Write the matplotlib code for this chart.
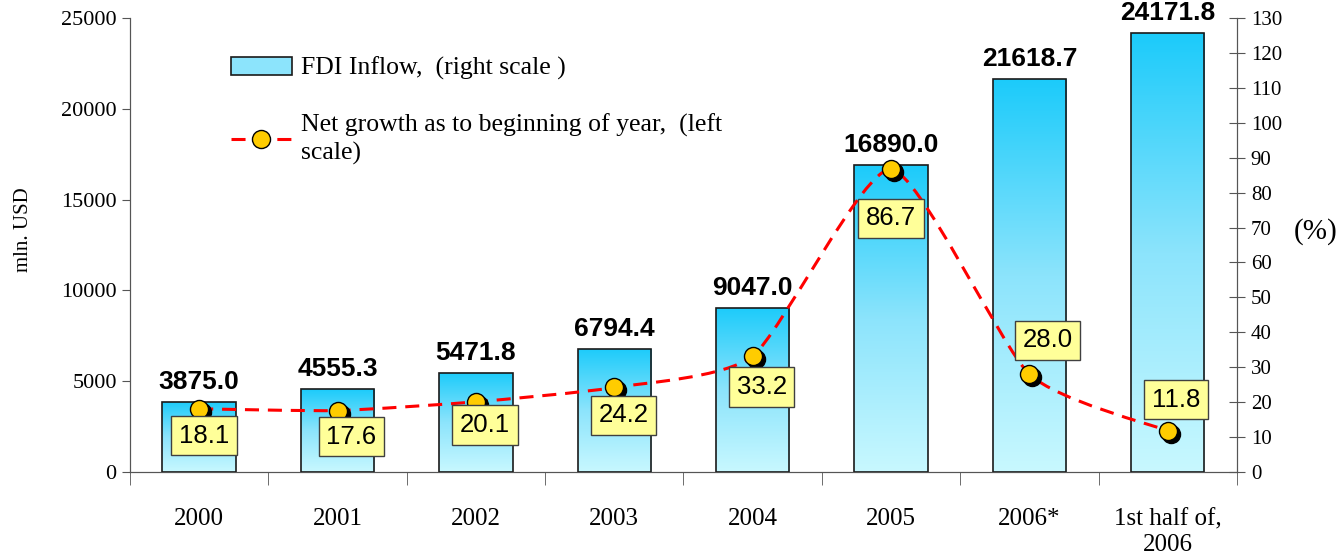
import numpy as np
import matplotlib.pyplot as plt
from matplotlib.path import Path
from matplotlib.patches import PathPatch, Patch
from matplotlib.lines import Line2D
from matplotlib.transforms import offset_copy

plt.rcParams['font.family'] = ['Liberation Serif', 'DejaVu Serif']

# ------------------------------------------------------------
# Data
# ------------------------------------------------------------
categories = ["2000", "2001", "2002", "2003", "2004", "2005", "2006*",
              "1st half of,\n2006"]
fdi_inflow = [3875.0, 4555.3, 5471.8, 6794.4, 9047.0, 16890.0, 21618.7, 24171.8]
net_growth = [18.1, 17.6, 20.1, 24.2, 33.2, 86.7, 28.0, 11.8]

# where each yellow growth label sits relative to its point (pixels)
label_offsets = [(5, -27), (14, -26), (9, -23), (9, -28), (9, -31),
                 (0, -49), (18, 34), (8, 31)]

x = np.arange(len(categories))


def smooth_path(xs, ys, k=0.1):
    # excel-like smoothed line through the points (bezier segments)
    pts = np.column_stack([xs, ys]).astype(float)
    n = len(pts)
    verts = [pts[0]]
    codes = [Path.MOVETO]
    for i in range(n - 1):
        p0 = pts[max(i - 1, 0)]
        p1 = pts[i]
        p2 = pts[i + 1]
        p3 = pts[min(i + 2, n - 1)]
        verts += [p1 + (p2 - p0) * k, p2 - (p3 - p1) * k, p2]
        codes += [Path.CURVE4] * 3
    return Path(verts, codes)


fig = plt.figure(figsize=(13.41, 5.57), dpi=100)
ax = fig.add_axes([0.0969, 0.1526, 0.8255, 0.8151])
ax2 = ax.twinx()

# ------------------------------------------------------------
# Bars with vertical gradient
# ------------------------------------------------------------
bars = ax.bar(x, fdi_inflow, width=0.53, facecolor='none',
              edgecolor='#1a1a1a', linewidth=1.2, zorder=3)
grad = np.linspace(0, 1, 256).reshape(-1, 1)
cmap = plt.matplotlib.colors.LinearSegmentedColormap.from_list(
    'fdi', ['#C8F8FF', '#8CE4FC', '#1CCBFA'])
for b in bars:
    x0, w, h = b.get_x(), b.get_width(), b.get_height()
    im = ax.imshow(grad, cmap=cmap, origin='lower', aspect='auto',
                   extent=(x0, x0 + w, 0, h), zorder=2)
    im.set_clip_path(b)

for xi, v in zip(x, fdi_inflow):
    ax.annotate(f"{v:.1f}", (xi, v), xytext=(0, 8), textcoords='offset pixels',
                ha='center', va='bottom', fontsize=19, fontweight='bold',
                family='Liberation Sans')

ax.set_xlim(-0.5, len(categories) - 0.5)
ax.set_ylim(0, 25000)
ax.set_yticks(np.arange(0, 25001, 5000))
ax.set_xticks(x)
ax.set_xticklabels(categories, fontsize=18, linespacing=1.25)
ax.set_xticks(np.arange(-0.5, len(categories), 1), minor=True)
ax.tick_params(axis='x', which='major', length=0, pad=26)
ax.tick_params(axis='x', which='minor', length=9, direction='out',
               color='#555555')
ax.tick_params(axis='y', labelsize=16, length=6, color='#555555')
ax.set_ylabel("mln. USD", fontsize=15)
ax.yaxis.set_label_coords(-0.088, 0.533)

for side in ['top']:
    ax.spines[side].set_visible(False)
    ax2.spines[side].set_visible(False)
for sp in ['left', 'bottom', 'right']:
    ax.spines[sp].set_color('#555555')
    ax2.spines[sp].set_color('#555555')

# ------------------------------------------------------------
# Growth line on right axis
# ------------------------------------------------------------
ax2.set_ylim(0, 130)
ax2.set_yticks(np.arange(0, 131, 10))
ax2.tick_params(axis='y', labelsize=15, length=12, direction='inout',
                color='#555555', pad=4)
ax2.set_ylabel("(%)", fontsize=21, rotation=0, va='center', ha='center')
ax2.yaxis.set_label_coords(1.071, 0.53)

dash = (0, (4.6, 2.9))
line = PathPatch(smooth_path(x, net_growth), fill=False, edgecolor='#FF0000',
                 linewidth=2.2, linestyle=dash, zorder=3)
ax2.add_patch(line)

shadow = offset_copy(ax2.transData, fig=fig, x=3, y=-3, units='dots')
ax2.plot(x, net_growth, 'o', ms=13, color='black', transform=shadow, zorder=4)
ax2.plot(x, net_growth, 'o', ms=13, mfc='#FFCC00', mec='black', mew=1,
         zorder=5)

for xi, v, (dx, dy) in zip(x, net_growth, label_offsets):
    ax2.annotate(f"{v:.1f}", (xi, v), xytext=(dx, dy),
                 textcoords='offset pixels', ha='center', va='center',
                 fontsize=18.5, family='Liberation Sans', zorder=6,
                 bbox=dict(boxstyle='square,pad=0.3', fc='#FFFF99',
                           ec='#404040', lw=1))

# ------------------------------------------------------------
# Legend
# ------------------------------------------------------------
handles = [
    Patch(facecolor='#8CE4FC', edgecolor='#1a1a1a', linewidth=1.2),
    Line2D([], [], color='#FF0000', linestyle=dash, linewidth=2.2,
           marker='o', ms=13, mfc='#FFCC00', mec='black'),
]
labels = ["FDI Inflow,  (right scale )",
          "Net growth as to beginning of year,  (left\nscale)"]
leg = ax2.legend(handles, labels, loc='upper left',
                 bbox_to_anchor=(0.07, 0.966), frameon=False, fontsize=18.5,
                 handlelength=2.4, handletextpad=0.35, labelspacing=1.3)
for t in leg.get_texts():
    t.set_linespacing(1.3)

fig.savefig("out.png", dpi=100)
